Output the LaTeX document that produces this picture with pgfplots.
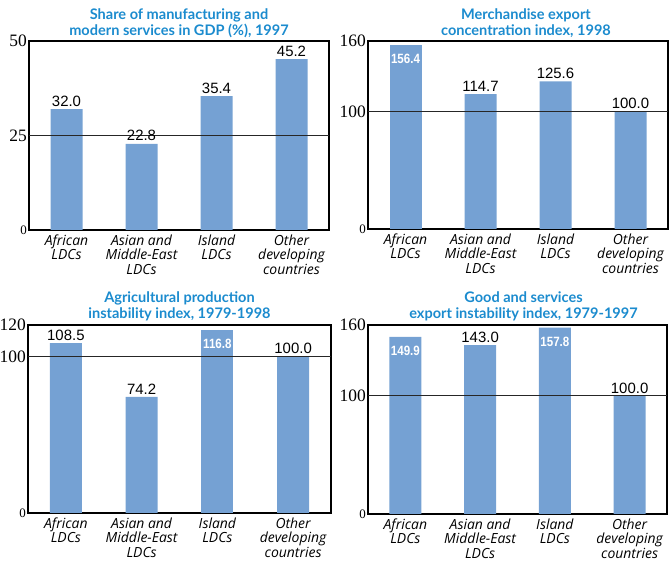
\documentclass[border=0pt]{standalone}
\usepackage{fontspec}
\setmainfont{Liberation Sans}
\newfontfamily\lato{Lato}
\newfontfamily\opensans{Open Sans}
\newfontfamily\tickserif{Liberation Serif}
\newfontfamily\valsans{Liberation Sans}
\newfontfamily\valnarrow{Liberation Sans Bold}[FakeStretch=0.86]
\usepackage{pgfplots}
\pgfplotsset{compat=1.18}

\definecolor{barblue}{RGB}{117,161,211}
\definecolor{titleblue}{RGB}{27,139,206}

\newcommand{\titfont}{\lato\bfseries\fontsize{14.6}{16}\selectfont\color{titleblue}}
\newcommand{\catfont}{\opensans\itshape\fontsize{14}{14.6}\selectfont}
\newcommand{\zero}{{\fontsize{13}{13}\selectfont 0}}

\pgfplotsset{
  panel/.style={
    scale only axis,
    xmin=-0.5, xmax=3.5, ymin=0,
    xtick={0,1,2,3},
    xticklabels={African\\LDCs, Asian and\\Middle-East\\LDCs, Island\\LDCs, Other\\developing\\countries},
    x tick label style={font=\catfont, align=center, anchor=north, inner sep=0pt, yshift=-4.5bp},
    y tick label style={font=\tickserif\fontsize{17.5}{18}\selectfont, anchor=east, inner sep=0pt, xshift=-2bp},
    major tick length=0pt,
    axis line style={line width=1.3bp, black},
    title style={font=\titfont, align=center, at={(0.5,1)}, anchor=south, inner sep=0pt, yshift=-2.5bp},
  },
  barout/.style={ybar, bar width=32bp, bar shift=0pt, fill=barblue, draw=none,
    nodes near coords={\pgfmathprintnumber[fixed, fixed zerofill, precision=1, assume math mode=true]{\pgfplotspointmeta}},
    every node near coord/.append style={font=\valsans\fontsize{15}{15}\selectfont, black, anchor=south, inner sep=0pt, yshift=2.5bp}},
  barin/.style={ybar, bar width=32bp, bar shift=0pt, fill=barblue, draw=none,
    nodes near coords={\pgfmathprintnumber[fixed, fixed zerofill, precision=1, assume math mode=true]{\pgfplotspointmeta}},
    every node near coord/.append style={font=\valnarrow\fontsize{13.5}{14}\selectfont, white, anchor=north, inner sep=0pt, yshift=-9bp}},
  refline/.style={line width=1bp, black!85},
}

\begin{document}
\begin{tikzpicture}
\useasboundingbox (0,0) rectangle (670bp,562bp);

% top left
\begin{axis}[panel, at={(29bp,332bp)}, anchor=south west, width=300bp, height=189bp,
  ymax=50, ytick={0,25,50}, yticklabels={\zero,25,50},
  title={Share of manufacturing and\\modern services in GDP (\%), 1997}]
\addplot[barout] coordinates {(0,32.0) (1,22.8) (2,35.4) (3,45.2)};
\addplot[refline] coordinates {(-0.5,25) (3.5,25)};
\end{axis}

% top right
\begin{axis}[panel, at={(368bp,333bp)}, anchor=south west, width=300bp, height=188bp,
  ymax=160, ytick={0,100,160}, yticklabels={\zero,100,160},
  title style={xshift=8bp},
  title={Merchandise export\\concentration index, 1998}]
\addplot[barin] coordinates {(0,156.4)};
\addplot[barout] coordinates {(1,114.7) (2,125.6) (3,100.0)};
\addplot[refline] coordinates {(-0.5,100) (3.5,100)};
\end{axis}

% bottom left
\begin{axis}[panel, at={(28bp,49bp)}, anchor=south west, width=303bp, height=188bp,
  ymax=120, ytick={0,100,120}, yticklabels={\zero,100,120},
  title={Agricultural production\\instability index, 1979-1998}]
\addplot[barout] coordinates {(0,108.5) (1,74.2) (3,100.0)};
\addplot[barin] coordinates {(2,116.8)};
\addplot[refline] coordinates {(-0.5,100) (3.5,100)};
\end{axis}

% bottom right
\begin{axis}[panel, at={(368bp,48bp)}, anchor=south west, width=299bp, height=189bp,
  ymax=160, ytick={0,100,160}, yticklabels={\zero,100,160},
  title style={xshift=6bp},
  title={Good and services\\export instability index, 1979-1997}]
\addplot[barin] coordinates {(0,149.9) (2,157.8)};
\addplot[barout] coordinates {(1,143.0) (3,100.0)};
\addplot[refline] coordinates {(-0.5,100) (3.5,100)};
\end{axis}
\end{tikzpicture}
\end{document}
